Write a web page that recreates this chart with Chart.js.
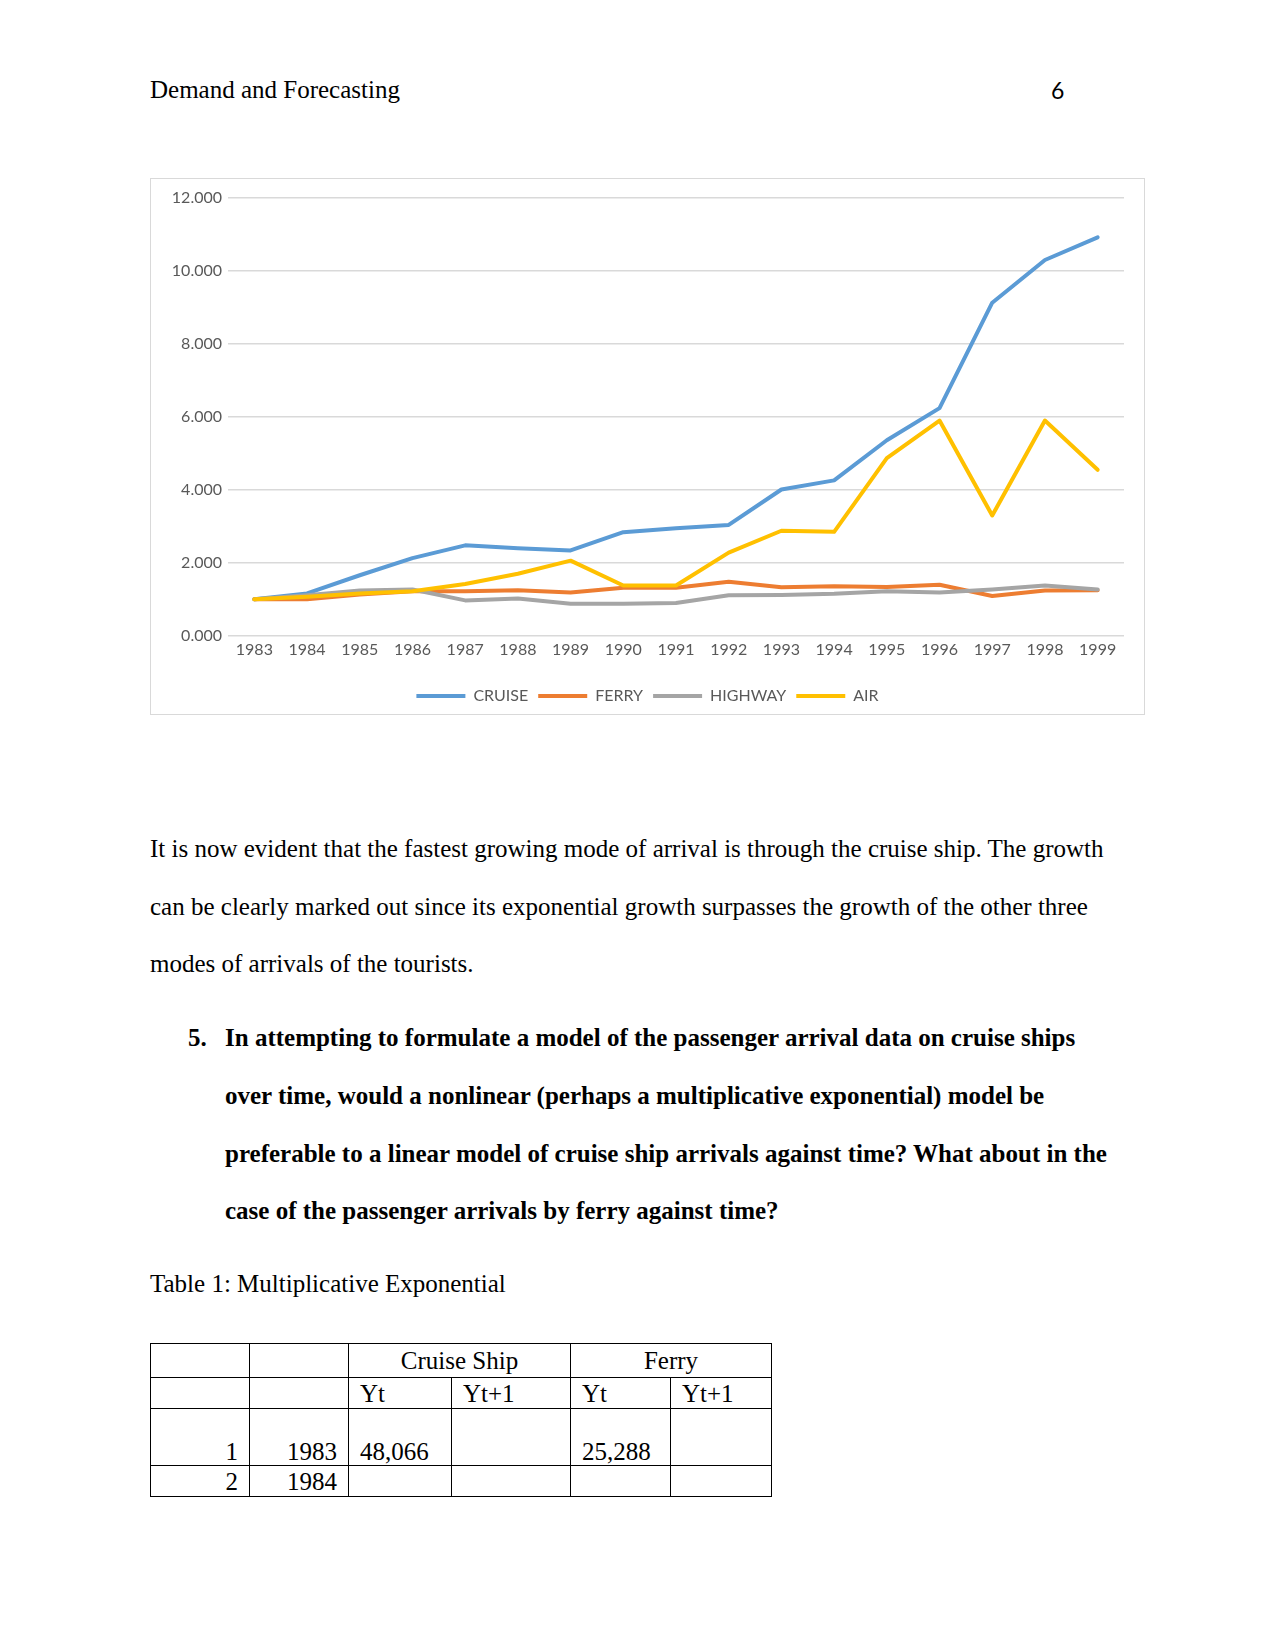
<!DOCTYPE html>
<html>
<head>
<meta charset="utf-8">
<script src="https://cdn.jsdelivr.net/npm/chart.js"></script>
<style>
  body { margin: 0; background: #fff; }
  .page { position: relative; width: 1275px; height: 1650px; background: #fff; font-family: "Liberation Serif", "Times New Roman", serif; color: #000; }
  .ln { position: absolute; white-space: nowrap; font-size: 25px; line-height: 28px; }
  .b { font-weight: bold; }
  #box { position: absolute; left: 150px; top: 178px; width: 993px; height: 535px; border: 1px solid #d9d9d9; }
  table { position: absolute; left: 150px; top: 1343px; border-collapse: collapse; font-size: 25px; }
  td { border: 1.5px solid #000; padding: 0 11px; line-height: 27px; white-space: nowrap; }
  .r { text-align: right; }
  .c { text-align: center; }
</style>
</head>
<body>
<div class="page">
  <div class="ln" style="left:150px; top:76px;">Demand and Forecasting</div>
  <div class="ln" style="left:1051px; top:76px; font-family: Lato, sans-serif; font-size: 23px;">6</div>

  <div id="box"><canvas id="myChart"></canvas></div>

  <div class="ln" style="left:150px; top:835px;">It is now evident that the fastest growing mode of arrival is through the cruise ship. The growth</div>
  <div class="ln" style="left:150px; top:893px;">can be clearly marked out since its exponential growth surpasses the growth of the other three</div>
  <div class="ln" style="left:150px; top:950px;">modes of arrivals of the tourists.</div>

  <div class="ln b" style="left:188px; top:1024px;">5.</div>
  <div class="ln b" style="left:225px; top:1024px;">In attempting to formulate a model of the passenger arrival data on cruise ships</div>
  <div class="ln b" style="left:225px; top:1082px;">over time, would a nonlinear (perhaps a multiplicative exponential) model be</div>
  <div class="ln b" style="left:225px; top:1140px;">preferable to a linear model of cruise ship arrivals against time? What about in the</div>
  <div class="ln b" style="left:225px; top:1197px;">case of the passenger arrivals by ferry against time?</div>

  <div class="ln" style="left:150px; top:1270px;">Table 1: Multiplicative Exponential</div>

  <table>
    <colgroup><col style="width:99px"><col style="width:99px"><col style="width:103px"><col style="width:119px"><col style="width:100px"><col style="width:101px"></colgroup>
    <tr style="height:34px"><td></td><td></td><td class="c" colspan="2">Cruise Ship</td><td class="c" colspan="2">Ferry</td></tr>
    <tr style="height:31px"><td></td><td></td><td>Yt</td><td>Yt+1</td><td>Yt</td><td>Yt+1</td></tr>
    <tr style="height:57px; vertical-align:bottom"><td class="r">1</td><td class="r">1983</td><td>48,066</td><td></td><td>25,288</td><td></td></tr>
    <tr style="height:31px"><td class="r">2</td><td class="r">1984</td><td></td><td></td><td></td><td></td></tr>
  </table>
</div>

<script>
const years = ['1983','1984','1985','1986','1987','1988','1989','1990','1991','1992','1993','1994','1995','1996','1997','1998','1999'];
const cruise  = [1.00, 1.16, 1.66, 2.13, 2.48, 2.40, 2.34, 2.84, 2.95, 3.04, 4.01, 4.26, 5.36, 6.24, 9.13, 10.30, 10.92];
const ferry   = [1.00, 1.00, 1.13, 1.22, 1.22, 1.25, 1.19, 1.32, 1.32, 1.48, 1.33, 1.36, 1.34, 1.40, 1.09, 1.24, 1.25];
const highway = [1.00, 1.11, 1.24, 1.27, 0.97, 1.02, 0.88, 0.88, 0.90, 1.11, 1.12, 1.15, 1.22, 1.19, 1.27, 1.38, 1.27];
const air     = [1.00, 1.07, 1.16, 1.22, 1.42, 1.70, 2.06, 1.38, 1.38, 2.28, 2.88, 2.85, 4.87, 5.90, 3.30, 5.90, 4.55];
const yTickLabels = ['0.000','2.000','4.000','6.000','8.000','10.000','12.000'];

function line(label, data, color, order) {
  return {
    label: label, data: data, borderColor: color, backgroundColor: color,
    borderWidth: 4, pointRadius: 0, tension: 0, order: order,
    borderCapStyle: 'round', borderJoinStyle: 'round'
  };
}

// nudge the legend a little to the right, as in the original
const legendShift = {
  id: 'legendShift',
  afterLayout(chart) {
    const lg = chart.legend;
    if (lg) { lg.left += 10; lg.right += 10; }
  }
};

const canvas = document.getElementById('myChart');
new Chart(canvas, {
  type: 'line',
  data: {
    labels: years,
    datasets: [
      line('CRUISE', cruise, '#5B9BD5', 4),
      line('FERRY', ferry, '#ED7D31', 3),
      line('HIGHWAY', highway, '#A5A5A5', 2),
      line('AIR', air, '#FFC000', 1)
    ]
  },
  plugins: [legendShift],
  options: {
    responsive: true,
    maintainAspectRatio: false,
    animation: false,
    layout: { padding: { left: 0, right: 20, top: 19, bottom: 0 } },
    scales: {
      x: {
        offset: true,
        afterFit: (s) => { s.height += 15; },
        grid: { display: false, drawTicks: false },
        border: { display: false },
        ticks: { color: '#595959', font: { family: 'Lato', size: 16 }, padding: 4, maxRotation: 0, autoSkip: false }
      },
      y: {
        min: 0, max: 12,
        afterFit: (s) => { s.width = 77; },
        grid: { color: '#d9d9d9', lineWidth: 1.5, drawTicks: false },
        border: { display: false },
        ticks: {
          stepSize: 2, padding: 6, color: '#595959', font: { family: 'Lato', size: 16 },
          callback: (v) => yTickLabels[v / 2]
        }
      }
    },
    plugins: {
      tooltip: { enabled: false },
      legend: {
        position: 'bottom',
        labels: {
          usePointStyle: true, pointStyle: 'line', pointStyleWidth: 49,
          color: '#595959', font: { family: 'Lato', size: 16 }, padding: 10,
          sort: (a, b) => a.datasetIndex - b.datasetIndex
        }
      }
    }
  }
});
</script>
</body>
</html>
